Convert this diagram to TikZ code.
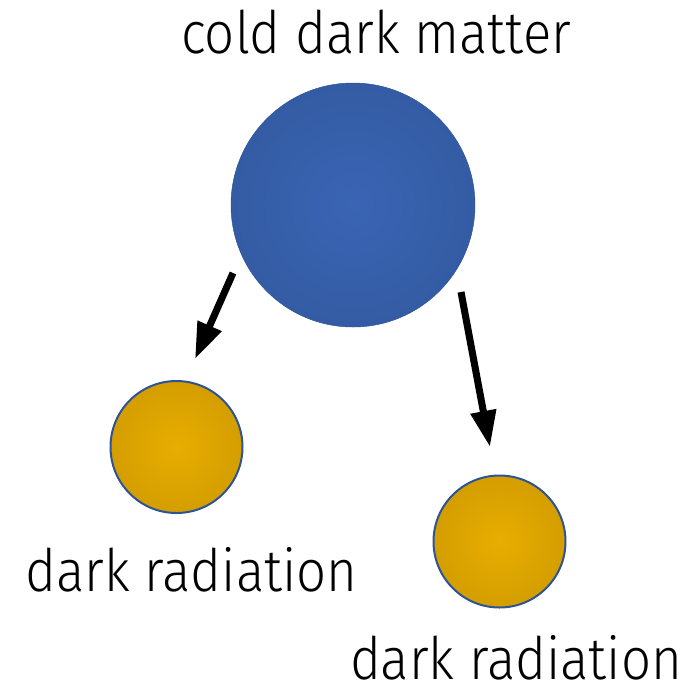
\documentclass[tikz,border=0pt]{standalone}
\usepackage{fontspec}
\setmainfont{Fira Sans Light}[FakeStretch=0.9]
\usepackage{xcolor}
\usepackage{tikz}
\usetikzlibrary{positioning,arrows.meta,calc}
\definecolor{ink}{HTML}{000000}
\definecolor{cdmBlue}{HTML}{2E5394}
\definecolor{cdmCore}{HTML}{3A65B4}
\definecolor{drGold}{HTML}{BF8F00}
\definecolor{drCore}{HTML}{E8AD00}
\pgfdeclareradialshading{cdmglow}{\pgfpoint{0bp}{0bp}}{color(0bp)=(cdmCore); color(50bp)=(cdmBlue); color(72bp)=(cdmBlue)}
\pgfdeclareradialshading{drglow}{\pgfpoint{0bp}{0bp}}{color(0bp)=(drCore); color(50bp)=(drGold); color(72bp)=(drGold)}
\tikzset{
  lbl/.style={font=\fontsize{50}{60}\selectfont, text=ink, anchor=base, inner sep=0pt, text depth=0pt},
  decay/.style={-{Triangle[length=31pt,width=21pt]}, line width=6pt, draw=ink},
}

\begin{document}
\begin{tikzpicture}[x=0.03cm, y=-0.03cm,
  cdm/.style={circle, minimum size=7.32cm, inner sep=0pt, shading=cdmglow, draw=cdmBlue, line width=0.4pt},
  dr/.style={circle, minimum size=3.96cm, inner sep=0pt, shading=drglow, draw=cdmBlue, line width=1.7pt}]
\useasboundingbox (0,0) rectangle (690,686);
\node[cdm] (matter) at (353,205) {};
\node[dr] (radL) at (176.5,447) {};
\node[dr] (radR) at (499.5,541.5) {};
\node[lbl] (tMatter) at (376,53) {cold dark matter};
\node[lbl] (tRadL) at (191.5,591) {dark radiation};
\node[lbl] (tRadR) at (516,679) {dark radiation};
% decay arrows
\coordinate (tailL) at ($(matter)+(-120,68)$);
\coordinate (tipL) at ($(radL)+(18.5,-88)$);
\coordinate (tailR) at ($(matter)+(108,87)$);
\coordinate (tipR) at ($(radR)+(-9.5,-94.5)$);
\draw[decay] (tailL) -- (tipL);
\draw[decay] (tailR) -- (tipR);
\end{tikzpicture}
\end{document}
